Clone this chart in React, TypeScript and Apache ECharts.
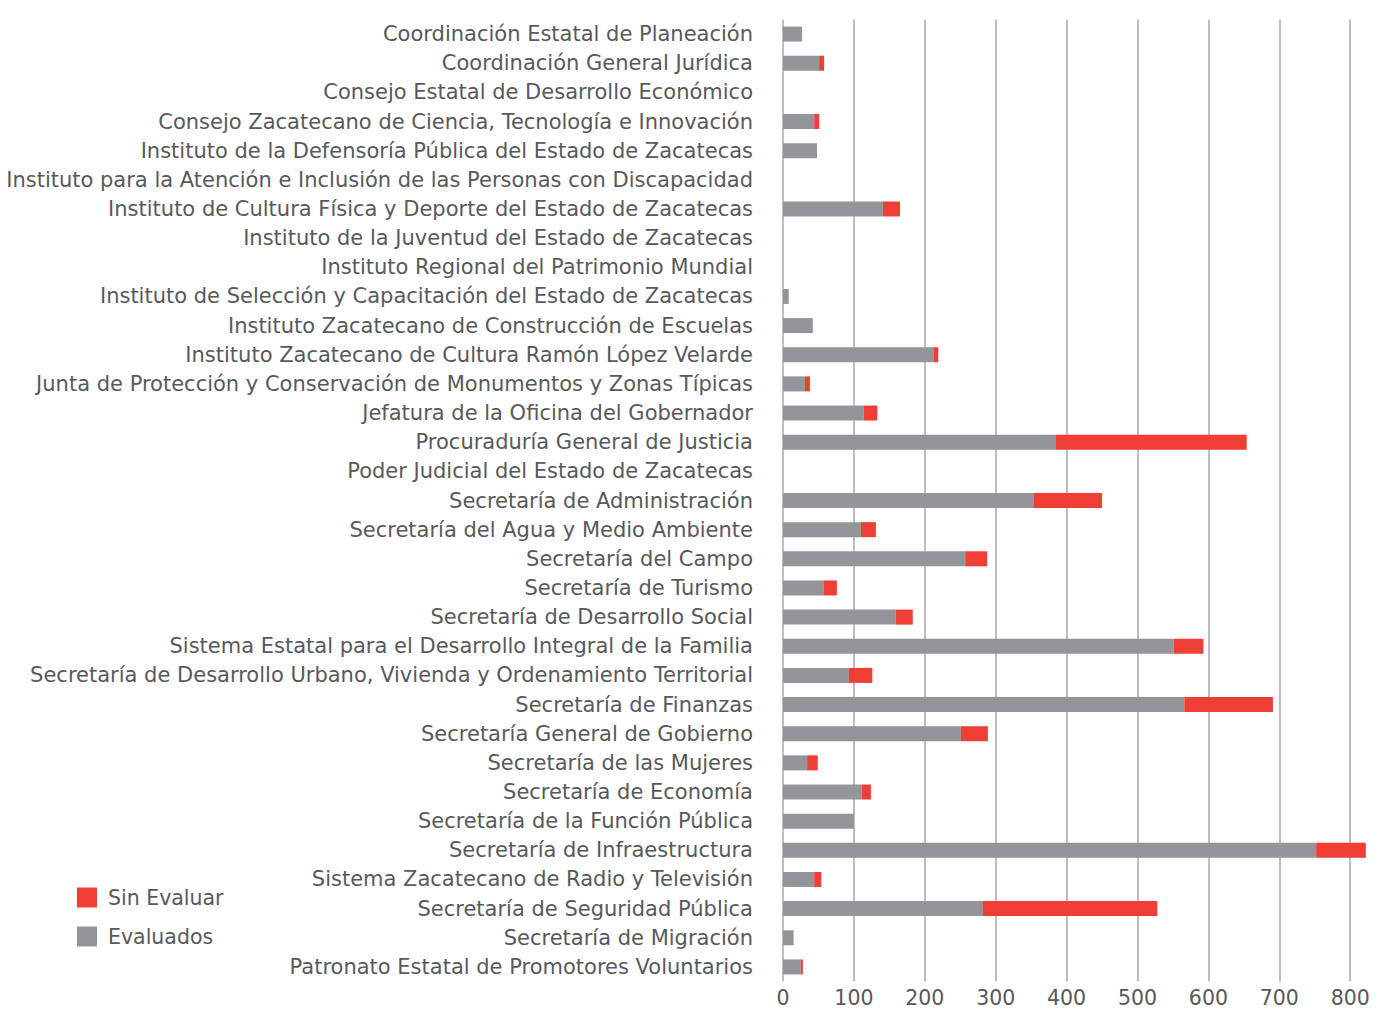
import React, { useEffect, useRef } from "react";
import * as echarts from "echarts";

const categories = [
  "Coordinación Estatal de Planeación",
  "Coordinación General Jurídica",
  "Consejo Estatal de Desarrollo Económico",
  "Consejo Zacatecano de Ciencia, Tecnología e Innovación",
  "Instituto de la Defensoría Pública del Estado de Zacatecas",
  "Instituto para la Atención e Inclusión de las Personas con Discapacidad",
  "Instituto de Cultura Física y Deporte del Estado de Zacatecas",
  "Instituto de la Juventud del Estado de Zacatecas",
  "Instituto Regional del Patrimonio Mundial",
  "Instituto de Selección y Capacitación del Estado de Zacatecas",
  "Instituto Zacatecano de Construcción de Escuelas",
  "Instituto Zacatecano de Cultura Ramón López Velarde",
  "Junta de Protección y Conservación de Monumentos y Zonas Típicas",
  "Jefatura de la Oficina del Gobernador",
  "Procuraduría General de Justicia",
  "Poder Judicial del Estado de Zacatecas",
  "Secretaría de Administración",
  "Secretaría del Agua y Medio Ambiente",
  "Secretaría del Campo",
  "Secretaría de Turismo",
  "Secretaría de Desarrollo Social",
  "Sistema Estatal para el Desarrollo Integral de la Familia",
  "Secretaría de Desarrollo Urbano, Vivienda y Ordenamiento Territorial",
  "Secretaría de Finanzas",
  "Secretaría General de Gobierno",
  "Secretaría de las Mujeres",
  "Secretaría de Economía",
  "Secretaría de la Función Pública",
  "Secretaría de Infraestructura",
  "Sistema Zacatecano de Radio y Televisión",
  "Secretaría de Seguridad Pública",
  "Secretaría de Migración",
  "Patronato Estatal de Promotores Voluntarios",
];

const evaluados = [
  27, 51, 0, 44, 48, 0, 141, 0, 0, 8, 42, 213, 31, 114, 385, 0, 354, 110, 257, 57,
  159, 551, 93, 566, 251, 34, 111, 100, 752, 44, 282, 15, 25,
];

const sinEvaluar = [
  0, 7, 0, 7, 0, 0, 24, 0, 0, 0, 0, 6, 7, 19, 269, 0, 96, 21, 31, 19,
  24, 42, 33, 125, 38, 15, 13, 0, 70, 10, 246, 0, 3,
];

const GRAY = "#939598";
const RED = "#EF3E36";
const TEXT = "#58595B";
const FONT = "'DejaVu Sans', sans-serif";

export default function App() {
  const ref = useRef<HTMLDivElement>(null);
  useEffect(() => {
    if (!ref.current) return;
    const chart = echarts.init(ref.current, undefined, { renderer: "svg" });
    chart.setOption({
      animation: false,
      textStyle: { fontFamily: FONT },
      grid: { left: 783, top: 19.5, width: 567.2, height: 962, containLabel: false },
      legend: {
        orient: "vertical",
        left: 77,
        top: 887,
        padding: 0,
        itemWidth: 20,
        itemHeight: 20,
        itemGap: 18,
        icon: "rect",
        data: ["Sin Evaluar", "Evaluados"],
        textStyle: { color: TEXT, fontSize: 20.5, fontFamily: FONT, padding: [0, 0, 0, 6] },
      },
      xAxis: {
        type: "value",
        min: 0,
        max: 800,
        interval: 100,
        axisLine: { show: false },
        axisTick: { show: false },
        axisLabel: {
          color: TEXT,
          fontSize: 20.5,
          fontFamily: FONT,
          margin: 6,
        },
        splitLine: { show: true, lineStyle: { color: "#BCBEC0", width: 2 } },
      },
      yAxis: {
        type: "category",
        inverse: true,
        data: categories,
        axisLine: { show: false },
        axisTick: { show: false },
        axisLabel: { color: TEXT, fontSize: 21, fontFamily: FONT, margin: 30 },
      },
      series: [
        {
          name: "Evaluados",
          type: "bar",
          stack: "total",
          barWidth: 15,
          clip: false,
          itemStyle: { color: GRAY },
          data: evaluados,
        },
        {
          name: "Sin Evaluar",
          type: "bar",
          stack: "total",
          barWidth: 15,
          clip: false,
          itemStyle: { color: RED },
          data: sinEvaluar,
        },
      ],
    });
    return () => chart.dispose();
  }, []);
  return (
    <div
      ref={ref}
      style={{ position: "fixed", left: 0, top: 0, width: 1388, height: 1009, background: "#fff" }}
    />
  );
}
